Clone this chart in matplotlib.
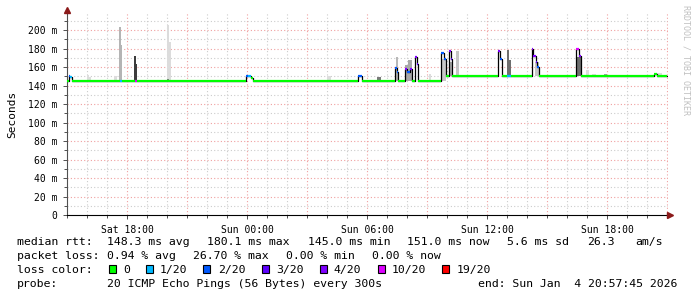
import matplotlib
matplotlib.use("Agg")
import matplotlib.pyplot as plt
from matplotlib.patches import Rectangle

# ---------------- data ----------------
# time axis: hours since Sat 15:00
tick_hours = [3, 9, 15, 21, 27]
tick_labels = ["Sat 18:00", "Sun 00:00", "Sun 06:00", "Sun 12:00", "Sun 18:00"]
y_ticks = [0, 20, 40, 60, 80, 100, 120, 140, 160, 180, 200]

# median rtt (ms) as steps: start time, value, loss class
med_t = [0, 0.075, 0.15, 0.225, 2.625, 2.725, 3.375, 3.5, 8.95, 9.05, 9.2, 9.3,
         14.55, 14.725, 16.4, 16.475, 16.55, 16.9, 17.0, 17.15, 17.25, 17.4,
         17.475, 17.55, 18.7, 18.825, 18.95, 19.075, 19.175, 19.25, 21.55,
         21.665, 21.75, 22.0, 22.2, 23.225, 23.315, 23.425, 23.5, 23.6, 25.45,
         25.6, 25.7, 29.35, 29.5]
med_end = 30.0
med_v = [145, 150, 149, 145, 145, 145, 145, 145, 150, 150, 148, 145,
         150, 145, 159, 155, 145, 158, 155, 158, 145, 171,
         163, 145, 175, 169, 150, 177, 169, 150, 177,
         169, 150, 150, 150, 180, 172, 165, 160, 150, 180,
         172, 150, 152, 150]
med_loss = [0, 2, 1, 0, 1, 0, 5, 0, 2, 1, 0, 0,
            2, 0, 2, 2, 0, 4, 2, 4, 0, 4,
            3, 0, 2, 2, 0, 4, 3, 0, 4,
            2, 0, 1, 0, 4, 4, 3, 2, 0, 5,
            4, 0, 0, 0]

# smoke (spread of pings): start, end, low, high, shade
smoke_t0 = [1.0, 1.1, 2.35, 2.6, 2.675, 3.35, 3.425, 5.0, 5.1, 5.0, 13.0, 15.5,
            16.45, 16.9, 17.05, 18.1, 18.7, 19.1, 19.45, 22.0, 22.1, 23.4,
            25.45, 25.95, 26.25, 26.85, 29.5]
smoke_t1 = [1.1, 1.2, 2.5, 2.675, 2.75, 3.425, 3.5, 5.1, 5.2, 5.075, 13.2, 15.7,
            16.55, 17.05, 17.25, 18.2, 18.95, 19.25, 19.6, 22.1, 22.2, 23.6,
            25.7, 26.1, 26.45, 27.0, 29.75]
smoke_lo = [145, 145, 145, 145, 145, 145, 145, 145, 145, 145, 145, 145,
            145, 145, 145, 145, 145, 150, 150, 150, 150, 150,
            150, 150, 150, 150, 150]
smoke_hi = [151, 149, 150, 203, 184, 172, 163, 205, 187, 147, 150, 149,
            171, 162, 168, 152, 169, 165, 177, 178, 168, 165,
            171, 157, 152, 152, 154]
smoke_shade = ["#dddddd", "#dddddd", "#dddddd", "#b4b4b4", "#b4b4b4", "#3c3c3c",
               "#3c3c3c", "#dcdcdc", "#dcdcdc", "#808080", "#dddddd", "#7a7a7a",
               "#b8b8b8", "#a8a8a8", "#a8a8a8", "#dddddd", "#c8c8c8", "#aaaaaa",
               "#c4c4c4", "#6e6e6e", "#6e6e6e", "#c8c8c8", "#6e6e6e", "#dddddd",
               "#dddddd", "#a0a0a0", "#dddddd"]

loss_labels = ["0", "1/20", "2/20", "3/20", "4/20", "10/20", "19/20"]
loss_colors = ["#00ff00", "#00b8ff", "#0059ff", "#5e00ff", "#7e00ff", "#dd00ff", "#ff0000"]

stats_rtt = ["148.3 ms avg", "180.1 ms max", "145.0 ms min", "151.0 ms now",
             "5.6 ms sd", "26.3", "am/s"]
stats_loss = ["0.94 % avg", "26.70 % max", "0.00 % min", "0.00 % now"]
probe_text = "20 ICMP Echo Pings (56 Bytes) every 300s"
end_text = "end: Sun Jan  4 20:57:45 2026"

# ---------------- figure ----------------
W, H = 697, 297
fig = plt.figure(figsize=(W / 100, H / 100), dpi=100)
fig.patch.set_facecolor("white")

def fx(px):
    return px / W

def fy(py):
    return 1 - py / H

L, R, T, B = 67, 668, 13, 215
ax = fig.add_axes([fx(L), fy(B), (R - L) / W, (B - T) / H])
ax.set_facecolor("white")
ax.set_xlim(0, 30.05)
ax.set_ylim(0, 218.4)

mono = "DejaVu Sans Mono"

# grid
dot = (0, (1, 2))
for h in range(1, 31):
    ax.axvline(h, color="#f0a0a0" if h % 3 == 0 else "#cccccc", lw=0.8,
               ls=dot, zorder=0)
for v in range(10, 219, 10):
    ax.axhline(v, color="#f0a0a0" if v % 20 == 0 else "#cccccc", lw=0.8,
               ls=dot, zorder=0)

# smoke
for t0, t1, lo, hi, c in zip(smoke_t0, smoke_t1, smoke_lo, smoke_hi, smoke_shade):
    ax.bar(t0, hi - lo, width=t1 - t0, bottom=lo, align="edge", color=c,
           lw=0, zorder=1)

# median line: black steps plus loss coloured segments
xs = med_t + [med_end]
ys = med_v + [med_v[-1]]
ax.step(xs, ys, where="post", color="black", lw=0.9, zorder=2)
for i, (t, v, l) in enumerate(zip(med_t, med_v, med_loss)):
    t_next = med_t[i + 1] if i + 1 < len(med_t) else med_end
    ax.hlines(v, t, t_next, color=loss_colors[l], lw=1.6, zorder=3,
              capstyle="butt")

# axes styling
for s in ["top", "right"]:
    ax.spines[s].set_visible(False)
ax.spines["left"].set_color("#505050")
ax.spines["bottom"].set_color("black")
ax.set_xticks(tick_hours)
ax.set_xticklabels(tick_labels, fontfamily=mono, fontsize=7)
ax.set_xticks(range(0, 31), minor=True)
ax.set_yticks(y_ticks)
ax.set_yticklabels(["0" if v == 0 else f"{v} m" for v in y_ticks],
                   fontfamily=mono, fontsize=7)
ax.set_yticks(range(0, 219, 10), minor=True)
ax.tick_params(axis="both", which="both", length=2, width=0.7, color="#505050")
ax.tick_params(axis="x", which="major", length=3, pad=4)
ax.tick_params(axis="y", which="major", length=3, pad=4)
ax.set_ylabel("Seconds", fontfamily=mono, fontsize=8, labelpad=8)

# arrows
fig.lines.append(plt.Line2D([fx(L)], [fy(10)], marker="^", ms=5, color="#8b1a1a",
                            transform=fig.transFigure))
fig.lines.append(plt.Line2D([fx(670)], [fy(B)], marker=">", ms=5, color="#8b1a1a",
                            transform=fig.transFigure))

fig.text(fx(686), fy(60), "RRDTOOL / TOBI OETIKER", rotation=270, fontsize=6,
         color="#c0c0c0", fontfamily=mono, ha="center", va="center")

# legend area
fs = 8.25
def t(xp, yp, s):
    fig.text(fx(xp), fy(yp), s, fontfamily=mono, fontsize=fs, ha="left",
             va="baseline", color="black")

rows = [245.3, 259.3, 273.3, 287.0]
t(16.7, rows[0], "median rtt:")
for xp, s in zip([107.3, 207.3, 308.3, 406.7, 506.7, 586.7, 635.0], stats_rtt):
    t(xp, rows[0], s)
t(16.7, rows[1], "packet loss:")
for xp, s in zip([107.3, 193.3, 286.0, 372.3], stats_loss):
    t(xp, rows[1], s)
t(16.7, rows[2], "loss color:")
sq_x = [109, 146, 203.3, 261.7, 320, 377.7, 442.3]
lab_x = [123.3, 160, 218.3, 276, 333.3, 391.7, 456.7]
for sx, lx, c, s in zip(sq_x, lab_x, loss_colors, loss_labels):
    fig.patches.append(Rectangle((fx(sx), fy(273.3)), 7 / W, 8 / H,
                                 facecolor=c, edgecolor="black", lw=0.8,
                                 transform=fig.transFigure))
    t(lx, rows[2], s)
t(16.7, rows[3], "probe:")
t(107.3, rows[3], probe_text)
t(478.3, rows[3], end_text)

fig.savefig("out.png", dpi=100, facecolor="white")
